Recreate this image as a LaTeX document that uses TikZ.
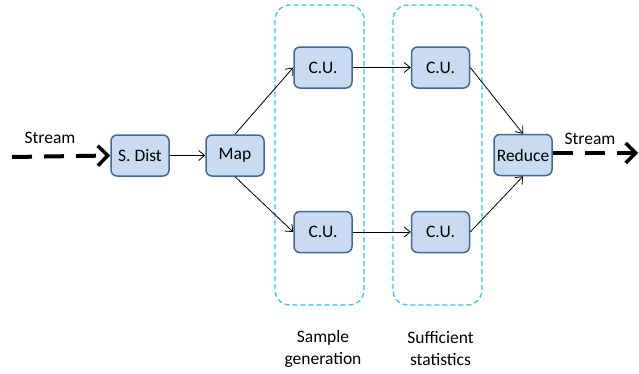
\documentclass[tikz,border=0pt]{standalone}
\usepackage{fontspec}
\setmainfont{Carlito}
\usetikzlibrary{arrows.meta}
\definecolor{boxfill}{HTML}{C9DBF0}
\definecolor{boxdraw}{HTML}{3F6A98}
\definecolor{grpcol}{HTML}{33C3FF}
\begin{document}
\begin{tikzpicture}[x=1pt,y=-1pt,
  unit/.style={draw=boxdraw,fill=boxfill,line width=1.5pt,rounded corners=6pt,
    minimum width=58pt,minimum height=41pt,inner sep=0pt,font=\fontsize{17.5}{20}\selectfont},
  grp/.style={draw=grpcol,line width=1.3pt,dash pattern=on 5pt off 3pt,rounded corners=15pt},
  conn/.style={-{Straight Barb[length=6pt,width=10pt,line width=0.8pt]},line width=0.8pt},
  stream/.style={line width=4pt,dash pattern=on 20pt off 12pt,-{Straight Barb[length=10pt,width=20pt,line width=3.5pt]}},
  lbl/.style={font=\fontsize{17.5}{22}\selectfont,align=center,inner sep=0pt}]
\useasboundingbox (0,0) rectangle (639,373);
% group frames
\draw[grp] (275,5) rectangle (364,305);
\draw[grp] (393,5) rectangle (482,305);
% nodes
\node[unit] (sd) at (140,155.5) {S. Dist};
\node[unit] (map) at (235,155.5) {Map};
\node[unit] (cu1) at (323,67.5) {C.U.};
\node[unit] (cu2) at (323,232) {C.U.};
\node[unit] (cu3) at (440.5,67.5) {C.U.};
\node[unit] (cu4) at (440.5,232) {C.U.};
\node[unit] (red) at (523,155) {Reduce};
% stream ends
\coordinate (sin) at (12,157);
\coordinate (sout) at (638,153);
\node[lbl] (lin) at (50,138) {Stream};
\node[lbl] (lout) at (590,139) {Stream};
\node[lbl] (sg) at (323,349) {Sample\\generation};
\node[lbl] (ss) at (440.5,349) {Sufficient\\statistics};
% connectors
\draw[stream] (sin) -- (sd.west);
\draw[stream] (red.east |- sout) -- (sout);
\draw[conn] (sd) -- (map);
\draw[conn] (map.north) -- (cu1.west);
\draw[conn] (map.south) -- (cu2.west);
\draw[conn] (cu1) -- (cu3);
\draw[conn] (cu2) -- (cu4);
\draw[conn] (cu3.east) -- (red.north);
\draw[conn] (cu4.east) -- (red.south);
\end{tikzpicture}
\end{document}
